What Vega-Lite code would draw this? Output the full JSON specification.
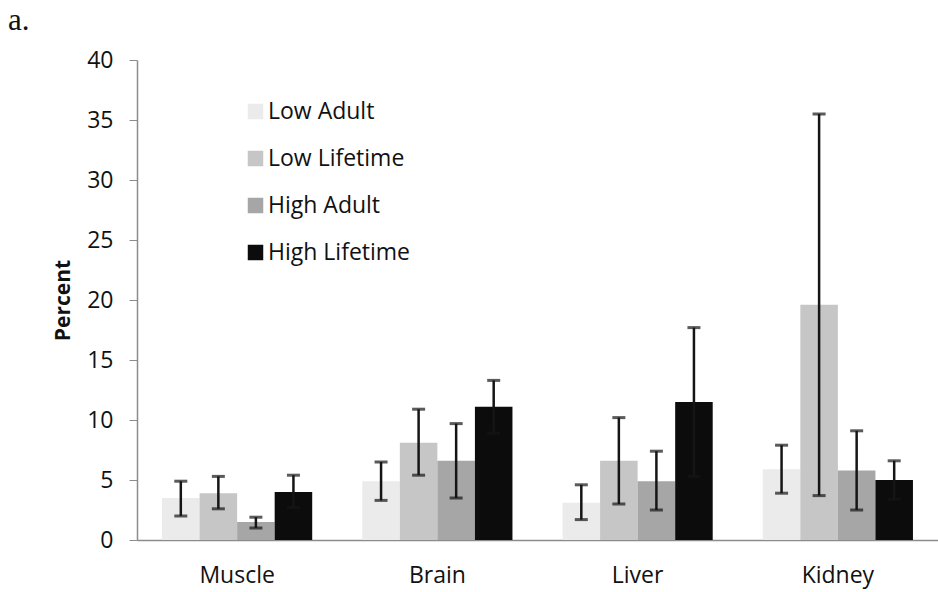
{
  "$schema": "https://vega.github.io/schema/vega-lite/v6.json",
  "autosize": "none",
  "width": 801,
  "height": 480,
  "padding": {"left": 137, "top": 60, "right": 0, "bottom": 52},
  "background": "white",
  "title": {"text": "a.", "anchor": "start", "frame": "group", "font": "Liberation Serif", "fontSize": 31, "fontWeight": "normal", "color": "#111111", "dx": -129, "offset": 12},
  "config": {"view": {"stroke": null}, "font": "Open Sans"},
  "data": {"values": [
    {"tissue": "Muscle", "group": "Low Adult", "value": 3.5, "lo": 2.0, "hi": 4.9},
    {"tissue": "Muscle", "group": "Low Lifetime", "value": 3.9, "lo": 2.6, "hi": 5.3},
    {"tissue": "Muscle", "group": "High Adult", "value": 1.5, "lo": 1.0, "hi": 1.9},
    {"tissue": "Muscle", "group": "High Lifetime", "value": 4.0, "lo": 2.7, "hi": 5.4},
    {"tissue": "Brain", "group": "Low Adult", "value": 4.9, "lo": 3.3, "hi": 6.5},
    {"tissue": "Brain", "group": "Low Lifetime", "value": 8.1, "lo": 5.4, "hi": 10.9},
    {"tissue": "Brain", "group": "High Adult", "value": 6.6, "lo": 3.5, "hi": 9.7},
    {"tissue": "Brain", "group": "High Lifetime", "value": 11.1, "lo": 8.9, "hi": 13.3},
    {"tissue": "Liver", "group": "Low Adult", "value": 3.1, "lo": 1.7, "hi": 4.6},
    {"tissue": "Liver", "group": "Low Lifetime", "value": 6.6, "lo": 3.0, "hi": 10.2},
    {"tissue": "Liver", "group": "High Adult", "value": 4.9, "lo": 2.5, "hi": 7.4},
    {"tissue": "Liver", "group": "High Lifetime", "value": 11.5, "lo": 5.3, "hi": 17.7},
    {"tissue": "Kidney", "group": "Low Adult", "value": 5.9, "lo": 3.9, "hi": 7.9},
    {"tissue": "Kidney", "group": "Low Lifetime", "value": 19.6, "lo": 3.7, "hi": 35.5},
    {"tissue": "Kidney", "group": "High Adult", "value": 5.8, "lo": 2.5, "hi": 9.1},
    {"tissue": "Kidney", "group": "High Lifetime", "value": 5.0, "lo": 3.4, "hi": 6.6}
  ]},
  "encoding": {
    "x": {"field": "tissue", "type": "nominal", "sort": ["Muscle", "Brain", "Liver", "Kidney"],
      "scale": {"paddingInner": 0, "paddingOuter": 0},
      "axis": {"title": null, "labelAngle": 0, "labelFontSize": 23, "labelColor": "#111111", "labelPadding": 24, "ticks": false, "domainColor": "#8c8c8c", "domainWidth": 1.5, "labelFont": "Open Sans"}},
    "xOffset": {"field": "group", "type": "nominal", "sort": ["Low Adult", "Low Lifetime", "High Adult", "High Lifetime"],
      "scale": {"paddingInner": 0, "paddingOuter": 0.667}}
  },
  "layer": [
    {
      "mark": {"type": "bar"},
      "encoding": {
        "y": {"field": "value", "type": "quantitative", "scale": {"domain": [0, 40]},
          "axis": {"title": "Percent", "titleFontSize": 21, "titleFontWeight": "bold", "titleColor": "#111111", "titlePadding": 13, "titleFont": "Open Sans",
            "values": [0, 5, 10, 15, 20, 25, 30, 35, 40], "labelFontSize": 23, "labelColor": "#111111", "labelPadding": 16, "labelFont": "Open Sans",
            "tickSize": 8, "tickColor": "#8c8c8c", "domainColor": "#8c8c8c", "domainWidth": 1.5, "grid": false}},
        "color": {"field": "group", "type": "nominal", "sort": ["Low Adult", "Low Lifetime", "High Adult", "High Lifetime"],
          "scale": {"domain": ["Low Adult", "Low Lifetime", "High Adult", "High Lifetime"], "range": ["#ebebeb", "#c6c6c6", "#a6a6a6", "#0c0c0c"]},
          "legend": {"title": null, "orient": "none", "legendX": 107, "legendY": 40, "symbolType": "square", "symbolSize": 240, "symbolStrokeWidth": 0,
            "labelFontSize": 23, "labelColor": "#111111", "rowPadding": 23, "labelOffset": 1, "labelFont": "Open Sans"}}
      }
    },
    {
      "mark": {"type": "rule", "color": "#151515", "strokeWidth": 2.5},
      "encoding": {"y": {"field": "lo", "type": "quantitative"}, "y2": {"field": "hi"}}
    },
    {
      "mark": {"type": "tick", "color": "#151515", "thickness": 3, "size": 13},
      "encoding": {"y": {"field": "lo", "type": "quantitative"}}
    },
    {
      "mark": {"type": "tick", "color": "#151515", "thickness": 3, "size": 13},
      "encoding": {"y": {"field": "hi", "type": "quantitative"}}
    }
  ]
}
